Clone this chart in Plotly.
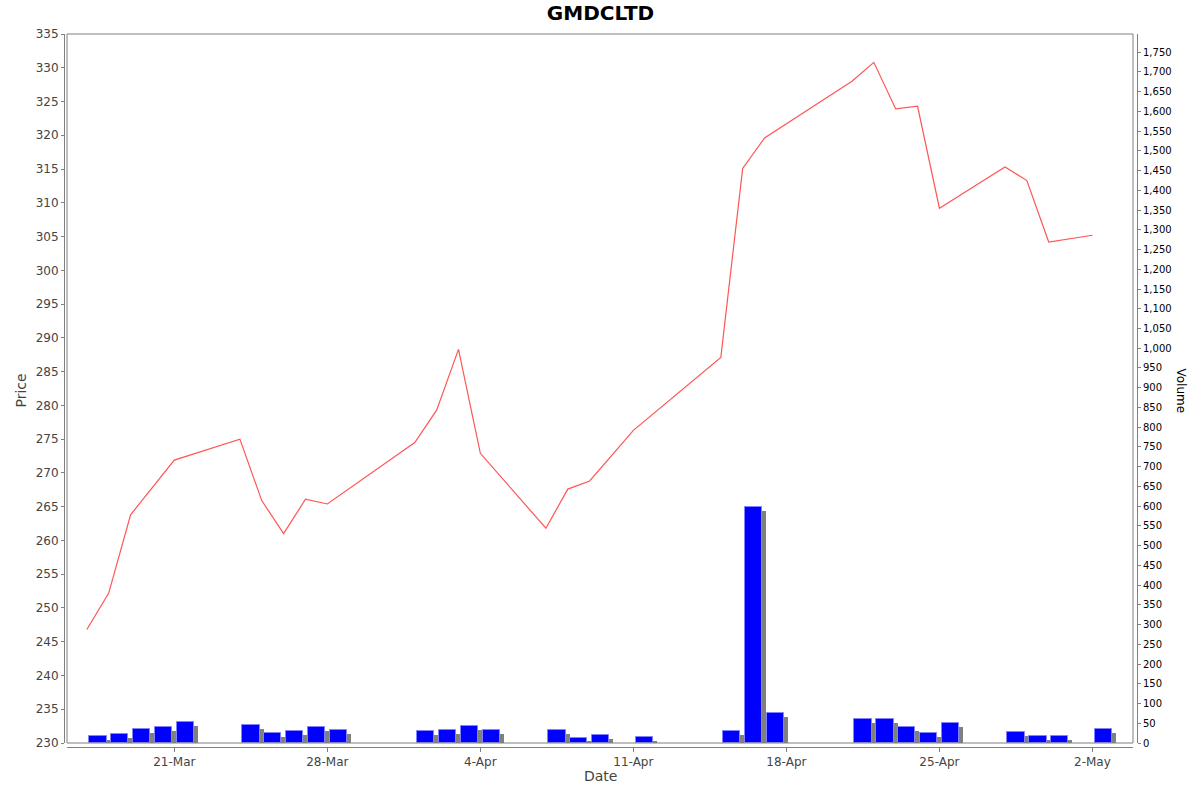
import plotly.graph_objects as go
import pandas as pd

# ---- data ----
price_dates = ["2025-03-17", "2025-03-18", "2025-03-19", "2025-03-21", "2025-03-24",
               "2025-03-25", "2025-03-26", "2025-03-27", "2025-03-28", "2025-04-01",
               "2025-04-02", "2025-04-03", "2025-04-04", "2025-04-07", "2025-04-08",
               "2025-04-09", "2025-04-11", "2025-04-15", "2025-04-16", "2025-04-17",
               "2025-04-21", "2025-04-22", "2025-04-23", "2025-04-24", "2025-04-25",
               "2025-04-28", "2025-04-29", "2025-04-30", "2025-05-02"]
price_values = [246.8, 252.2, 263.8, 271.9, 275.0,
                265.9, 261.0, 266.1, 265.4, 274.5,
                279.3, 288.3, 272.9, 261.8, 267.6,
                268.8, 276.3, 287.1, 315.1, 319.6,
                328.0, 330.8, 323.9, 324.3, 309.2,
                315.3, 313.3, 304.2, 305.2]

vol_dates = ["2025-03-17", "2025-03-18", "2025-03-19", "2025-03-20", "2025-03-21",
             "2025-03-24", "2025-03-25", "2025-03-26", "2025-03-27", "2025-03-28",
             "2025-04-01", "2025-04-02", "2025-04-03", "2025-04-04",
             "2025-04-07", "2025-04-08", "2025-04-09", "2025-04-11",
             "2025-04-15", "2025-04-16", "2025-04-17",
             "2025-04-21", "2025-04-22", "2025-04-23", "2025-04-24", "2025-04-25",
             "2025-04-28", "2025-04-29", "2025-04-30", "2025-05-02"]
vol_values = [18, 24, 35, 40, 54,
              46, 26, 30, 40, 34,
              31, 34, 43, 34,
              32, 13, 20, 15,
              30, 598, 76,
              60, 61, 40, 26, 50,
              27, 17, 18, 35]

tick_dates = ["2025-03-21", "2025-03-28", "2025-04-04", "2025-04-11",
              "2025-04-18", "2025-04-25", "2025-05-02"]
tick_labels = ["21-Mar", "28-Mar", "4-Apr", "11-Apr", "18-Apr", "25-Apr", "2-May"]

# ---- geometry helpers ----
DAY_MS = 86400000
px_per_day = 21.86
px_per_vol = 0.3947
vd = pd.to_datetime(vol_dates)
bar_centers = vd + pd.Timedelta(hours=12)
shadow_centers = bar_centers + pd.Timedelta(days=4 / px_per_day)
shadow_values = [max(v - 4 / px_per_vol, 0) for v in vol_values]

FONT = "DejaVu Sans"
GREY = "rgb(128,128,128)"

fig = go.Figure()

fig.add_trace(go.Bar(
    x=shadow_centers, y=shadow_values, width=0.8 * DAY_MS,
    marker=dict(color="rgb(128,128,128)", line=dict(width=0)),
    yaxis="y2", showlegend=False, hoverinfo="skip"))

fig.add_trace(go.Bar(
    x=bar_centers, y=vol_values, width=0.8 * DAY_MS,
    marker=dict(color="rgb(0,0,255)", line=dict(color="rgb(130,130,255)", width=1)),
    yaxis="y2", showlegend=False, name="Volume"))

fig.add_trace(go.Scatter(
    x=pd.to_datetime(price_dates), y=price_values, mode="lines",
    line=dict(color="rgb(255,85,85)", width=1.2),
    yaxis="y", showlegend=False, name="Price"))

fig.update_layout(
    width=1200, height=792,
    margin=dict(l=64, r=63, t=34, b=45, autoexpand=False),
    paper_bgcolor="white", plot_bgcolor="white",
    barmode="overlay", bargap=0,
    font=dict(family=FONT, size=12, color="#444444"),
    title=dict(text="<b>GMDCLTD</b>", x=0.5, xref="paper", xanchor="center",
               y=1 - 13 / 792, yref="container", yanchor="middle",
               font=dict(family=FONT, size=20, color="black")),
    xaxis=dict(
        type="date", domain=[3 / 1073, 1 - 4 / 1073], anchor="free", position=0,
        range=["2025-03-16 02:11", "2025-05-03 20:32"], automargin=False,
        tickvals=pd.to_datetime(tick_dates), ticktext=tick_labels,
        ticks="outside", ticklen=4, tickcolor=GREY,
        showline=True, linecolor=GREY, linewidth=1,
        showgrid=False, zeroline=False,
        tickfont=dict(family=FONT, size=12, color="#444444")),
    yaxis=dict(
        domain=[4 / 713, 1], anchor="free", position=0, automargin=False,
        range=[230, 335], dtick=5, tick0=230,
        ticks="outside", ticklen=3, tickcolor=GREY,
        showline=True, linecolor=GREY, linewidth=1,
        showgrid=False, zeroline=False,
        tickfont=dict(family=FONT, size=12, color="#444444")),
    yaxis2=dict(
        overlaying="y", side="right", anchor="free", position=1, automargin=False,
        range=[0, 1796], dtick=50, tick0=0, tickformat=",d",
        ticks="outside", ticklen=3, tickcolor=GREY,
        showline=True, linecolor=GREY, linewidth=1,
        showgrid=False, zeroline=False,
        tickfont=dict(family=FONT, size=10, color="black")),
    shapes=[dict(type="rect", xref="x domain", yref="y domain",
                 x0=0, x1=1, y0=0, y1=1,
                 line=dict(color=GREY, width=1), fillcolor="rgba(0,0,0,0)",
                 layer="above")],
    annotations=[
        dict(text="Price", xref="paper", yref="paper", x=-44 / 1073, y=0.5,
             xanchor="center", yanchor="middle", textangle=-90, showarrow=False,
             font=dict(family=FONT, size=14, color="#444444")),
        dict(text="Volume", xref="paper", yref="paper", x=1 + 44 / 1073, y=0.5,
             xanchor="center", yanchor="middle", textangle=90, showarrow=False,
             font=dict(family=FONT, size=12, color="black")),
        dict(text="Date", xref="paper", yref="paper", x=0.5, y=-29 / 713,
             xanchor="center", yanchor="middle", showarrow=False,
             font=dict(family=FONT, size=14, color="#444444")),
    ],
)

fig.write_html("out.html",
               config={"displayModeBar": False},
               post_script="document.body.style.margin='0px';"
                           "document.body.style.overflow='hidden';")
